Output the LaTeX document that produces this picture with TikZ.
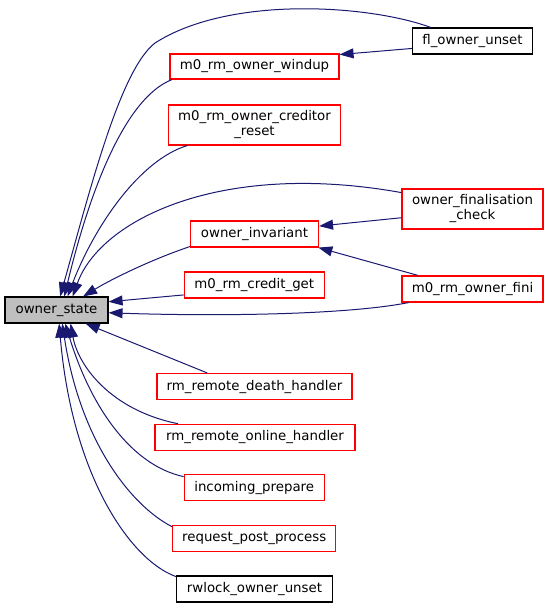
\documentclass[tikz,border=0pt]{standalone}
\usepackage{fontspec}
\setmainfont{DejaVu Sans}
\usetikzlibrary{arrows.meta}

\definecolor{edgeblue}{HTML}{191970}
\definecolor{boxred}{HTML}{FF0000}
\definecolor{boxblack}{HTML}{000000}
\definecolor{boxgray}{HTML}{BFBFBF}

\begin{document}
\begin{tikzpicture}[x=0.75pt,y=-0.75pt,
    font=\fontsize{10}{11.25}\selectfont,
    fn/.style={draw=boxred, line width=0.85pt, minimum height=19.5pt,
        inner sep=2pt, align=center},
    fnblack/.style={fn, draw=boxblack},
    fnmain/.style={fn, draw=boxblack, fill=boxgray},
    wd/.style={minimum width=#1*0.75pt},
    ht/.style={minimum height=#1*0.75pt},
    call/.style={draw=edgeblue, line width=0.75pt,
        {Triangle[length=10.5pt,width=7.5pt]}-}]

    \useasboundingbox (0,0) rectangle (549,608);

    % callers, middle column
    \node[fn, wd=169, ht=25] (wu) at (254.5,66.5) {m0\_rm\_owner\_windup};
    \node[fn, wd=172, ht=40] (cr) at (254.5,125) {m0\_rm\_owner\_creditor\\\_reset};
    \node[fn, wd=128] (inv)  at (254.5,234)   {owner\_invariant};
    \node[fn, wd=140] (cg)   at (254.3,285)   {m0\_rm\_credit\_get};
    \node[fn, wd=195] (dh)   at (254.5,386.5) {rm\_remote\_death\_handler};
    \node[fn, wd=200] (oh)   at (255,437.3)   {rm\_remote\_online\_handler};
    \node[fn, wd=140] (ip)   at (254.2,487.8) {incoming\_prepare};
    \node[fn, wd=163] (rp)   at (254.2,538.3) {request\_post\_process};

    % callers, right column
    \node[fn, wd=141, ht=40] (fc) at (472.5,209) {owner\_finalisation\\\_check};
    \node[fn, wd=141] (fini) at (472.5,289) {m0\_rm\_owner\_fini};

    % the black ones: owner_state and the two documented callers
    \node[fnmain, wd=103] (os) at (56.5,310) {owner\_state};
    \node[fnblack, wd=120] (fl) at (472.5,41) {fl\_owner\_unset};
    \node[fnblack, wd=156] (rw) at (254.5,589) {rwlock\_owner\_unset};

    % calls into owner_state, from the top
    \draw[call] (os.75) .. controls (90,190) and (120,70) .. (155,43)
        .. controls (230,-5) and (370,5) .. (fl.162);
    \draw[call] (os.60) .. controls (85,210) and (120,100) .. (wu.189);
    \draw[call] (os.51) .. controls (95,225) and (140,160) .. (cr.197);
    \draw[call] (os.40) .. controls (100,220) and (220,160) .. (fc.167);
    \draw[call] (os.27) .. controls (110,280) and (150,260) .. (inv.191);
    \draw[call] (os.9) -- (cg.188);
    \draw[call] (os.-3) .. controls (200,316) and (340,316) .. (fini.192);

    % calls into owner_state, from below
    \draw[call] (os.-25) -- (dh.164);
    \draw[call] (os.-44) .. controls (78,365) and (110,410) .. (oh.170);
    \draw[call] (os.-57) .. controls (90,405) and (130,465) .. (ip.171);
    \draw[call] (os.-67) .. controls (80,440) and (130,505) .. (rp.172);
    \draw[call] (os.-79) .. controls (72,475) and (130,560) .. (rw.171);

    % second level
    \draw[call] (wu.8) -- (fl.187);
    \draw[call] (inv.7) -- (fc.187);
    \draw[call] (inv.-12) -- (fini.166);
\end{tikzpicture}
\end{document}
